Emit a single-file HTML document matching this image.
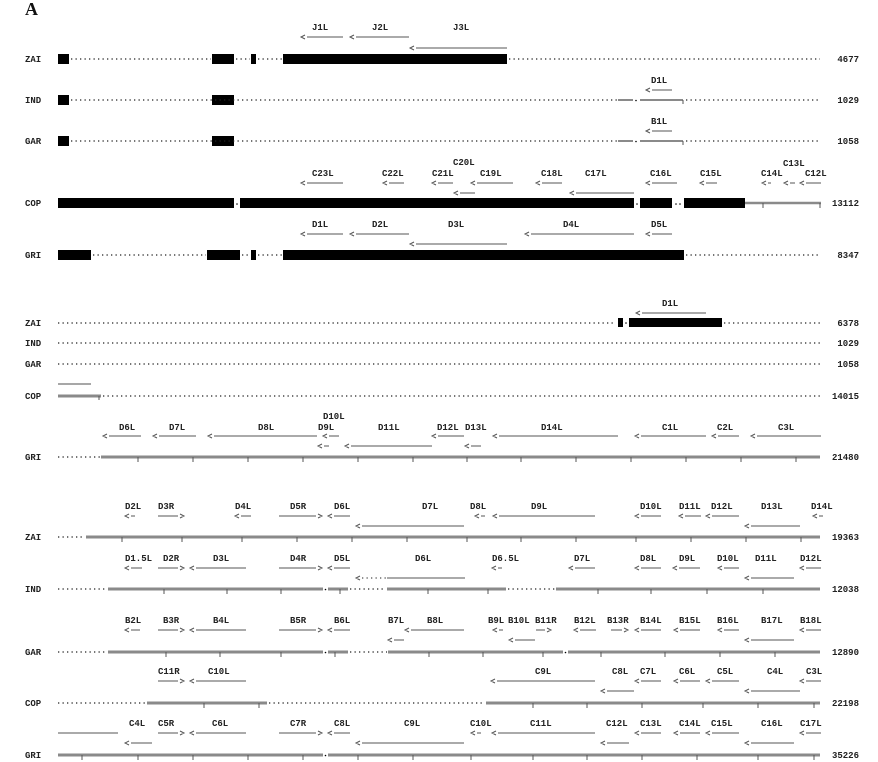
<!DOCTYPE html>
<html><head><meta charset="utf-8"><style>
html,body{margin:0;padding:0;background:#fff;}
svg{display:block}
text{font-family:"Liberation Mono",monospace;font-size:9px;font-weight:bold;fill:#222}
.d{stroke:#222;stroke-width:1.3;stroke-dasharray:1.3 3.2;fill:none}
.g{stroke:#8a8a8a;stroke-width:3;fill:none}
.a{stroke:#555;stroke-width:1;fill:none}
.k{stroke:#555;stroke-width:1;fill:none}
.n{text-anchor:end}
</style></head><body>
<svg width="878" height="762" viewBox="0 0 878 762" xmlns="http://www.w3.org/2000/svg">
<text x="25" y="15" style="font-family:'Liberation Serif',serif;font-size:18px;font-weight:bold;fill:#111">A</text>

<!-- ===== TOP PANEL ===== -->
<g>
<text x="25" y="62">ZAI</text><text x="25" y="103">IND</text><text x="25" y="144">GAR</text><text x="25" y="206">COP</text><text x="25" y="258">GRI</text>
<text class="n" x="859" y="62">4677</text><text class="n" x="859" y="103">1029</text><text class="n" x="859" y="144">1058</text><text class="n" x="859" y="206">13112</text><text class="n" x="859" y="258">8347</text>
</g>
<!-- ZAI -->
<rect x="58" y="54" width="11" height="10"/><rect x="212" y="54" width="22" height="10"/><rect x="251" y="54" width="5" height="10"/><rect x="283" y="54" width="224" height="10"/>
<path class="d" d="M71 59H211M236 59H250M258 59H282M509 59H820"/>
<text x="312" y="30">J1L</text><text x="372" y="30">J2L</text><text x="453" y="30">J3L</text>
<path class="a" d="M305 35L301 37L305 39M307 37H343M354 35L350 37L354 39M356 37H409M414 46L410 48L414 50M416 48H507"/>
<!-- IND -->
<rect x="58" y="95" width="11" height="10"/><rect x="212" y="95" width="22" height="10"/>
<path class="d" d="M71 100H617M686 100H820"/>
<path class="g" style="stroke-width:2" d="M618 100H633M640 100H683"/><circle cx="636" cy="100.5" r="0.8"/>
<path class="k" d="M683 100v4"/>
<text x="651" y="83">D1L</text>
<path class="a" d="M650 88L646 90L650 92M652 90H672"/>
<!-- GAR -->
<rect x="58" y="136" width="11" height="10"/><rect x="212" y="136" width="22" height="10"/>
<path class="d" d="M71 141H617M686 141H820"/>
<path class="g" style="stroke-width:2" d="M618 141H633M640 141H683"/><circle cx="636" cy="141.5" r="0.8"/>
<path class="k" d="M683 141v4"/>
<text x="651" y="124">B1L</text>
<path class="a" d="M650 129L646 131L650 133M652 131H672"/>
<!-- COP -->
<rect x="58" y="198" width="176" height="10"/><rect x="240" y="198" width="394" height="10"/><rect x="640" y="198" width="32" height="10"/><rect x="684" y="198" width="61" height="10"/>
<circle cx="237" cy="204" r="0.8"/><circle cx="637" cy="204" r="0.8"/><circle cx="676" cy="204" r="0.8"/><circle cx="680" cy="204" r="0.8"/>
<path class="g" style="stroke-width:2.5" d="M745 203H821"/><path class="k" d="M763 203v5M820 203v5"/>
<text x="312" y="176">C23L</text><text x="382" y="176">C22L</text><text x="432" y="176">C21L</text><text x="453" y="165">C20L</text><text x="480" y="176">C19L</text><text x="541" y="176">C18L</text><text x="585" y="176">C17L</text><text x="650" y="176">C16L</text><text x="700" y="176">C15L</text><text x="783" y="166">C13L</text><text x="761" y="176">C14L</text><text x="805" y="176">C12L</text>
<path class="a" d="M305 181L301 183L305 185M307 183H343M387 181L383 183L387 185M389 183H404M436 181L432 183L436 185M438 183H453M475 181L471 183L475 185M477 183H513M540 181L536 183L540 185M542 183H562M650 181L646 183L650 185M652 183H677M704 181L700 183L704 185M706 183H717M766 181L762 183L766 185M768 183H771M788 181L784 183L788 185M790 183H795M804 181L800 183L804 185M806 183H821M458 191L454 193L458 195M460 193H475M574 191L570 193L574 195M576 193H634"/>
<!-- GRI -->
<rect x="58" y="250" width="33" height="10"/><rect x="207" y="250" width="33" height="10"/><rect x="251" y="250" width="5" height="10"/><rect x="283" y="250" width="401" height="10"/>
<path class="d" d="M93 255H206M242 255H250M258 255H282M686 255H820"/>
<text x="312" y="227">D1L</text><text x="372" y="227">D2L</text><text x="448" y="227">D3L</text><text x="563" y="227">D4L</text><text x="651" y="227">D5L</text>
<path class="a" d="M305 232L301 234L305 236M307 234H343M354 232L350 234L354 236M356 234H409M529 232L525 234L529 236M531 234H634M650 232L646 234L650 236M652 234H672M414 242L410 244L414 246M416 244H507"/>

<!-- ===== MIDDLE PANEL ===== -->
<text x="25" y="326">ZAI</text><text x="25" y="346">IND</text><text x="25" y="367">GAR</text><text x="25" y="399">COP</text><text x="25" y="460">GRI</text>
<text class="n" x="859" y="326">6378</text><text class="n" x="859" y="346">1029</text><text class="n" x="859" y="367">1058</text><text class="n" x="859" y="399">14015</text><text class="n" x="859" y="460">21480</text>
<!-- ZAI -->
<path class="d" d="M58 323H616M724 323H820"/>
<rect x="618" y="318" width="5" height="9"/><circle cx="626" cy="323" r="0.8"/><rect x="629" y="318" width="93" height="9"/>
<text x="662" y="306">D1L</text>
<path class="a" d="M640 311L636 313L640 315M642 313H706"/>
<!-- IND GAR -->
<path class="d" d="M58 343H820M58 364H820"/>
<!-- COP -->
<path class="g" style="stroke-width:1.5" d="M58 384H91"/>
<path class="g" d="M58 396H101"/><path class="k" d="M99 396v4"/>
<path class="d" d="M103 396H820"/>
<!-- GRI -->
<path class="d" d="M58 457H100"/>
<path class="g" d="M101 457H820"/>
<path class="k" d="M138 457v5M193 457v5M248 457v5M303 457v5M358 457v5M413 457v5M467 457v5M521 457v5M576 457v5M631 457v5M686 457v5M741 457v5M796 457v5"/>
<text x="119" y="430">D6L</text><text x="169" y="430">D7L</text><text x="258" y="430">D8L</text><text x="318" y="430">D9L</text><text x="323" y="419">D10L</text><text x="378" y="430">D11L</text><text x="437" y="430">D12L</text><text x="465" y="430">D13L</text><text x="541" y="430">D14L</text><text x="662" y="430">C1L</text><text x="717" y="430">C2L</text><text x="778" y="430">C3L</text>
<path class="a" d="M107 434L103 436L107 438M109 436H141M157 434L153 436L157 438M159 436H196M212 434L208 436L212 438M214 436H317M327 434L323 436L327 438M329 436H339M436 434L432 436L436 438M438 436H464M497 434L493 436L497 438M499 436H618M639 434L635 436L639 438M641 436H706M716 434L712 436L716 438M718 436H739M755 434L751 436L755 438M757 436H821M322 444L318 446L322 448M324 446H329M349 444L345 446L349 448M351 446H432M469 444L465 446L469 448M471 446H481"/>

<!-- ===== BOTTOM PANEL ===== -->
<text x="25" y="540">ZAI</text><text x="25" y="592">IND</text><text x="25" y="655">GAR</text><text x="25" y="706">COP</text><text x="25" y="758">GRI</text>
<text class="n" x="859" y="540">19363</text><text class="n" x="859" y="592">12038</text><text class="n" x="859" y="655">12890</text><text class="n" x="859" y="706">22198</text><text class="n" x="859" y="758">35226</text>
<!-- ZAI -->
<path class="d" d="M58 537H85"/>
<path class="g" d="M86 537H820"/>
<path class="k" d="M122 537v5M182 537v5M242 537v5M297 537v5M352 537v5M407 537v5M467 537v5M521 537v5M576 537v5M636 537v5M691 537v5M746 537v5M801 537v5"/>
<text x="125" y="509">D2L</text><text x="158" y="509">D3R</text><text x="235" y="509">D4L</text><text x="290" y="509">D5R</text><text x="334" y="509">D6L</text><text x="422" y="509">D7L</text><text x="470" y="509">D8L</text><text x="531" y="509">D9L</text><text x="640" y="509">D10L</text><text x="679" y="509">D11L</text><text x="711" y="509">D12L</text><text x="761" y="509">D13L</text><text x="811" y="509">D14L</text>
<path class="a" d="M129 514L125 516L129 518M131 516H135M158 516H178M180 514L184 516L180 518M239 514L235 516L239 518M241 516H251M279 516H316M318 514L322 516L318 518M332 514L328 516L332 518M334 516H350M479 514L475 516L479 518M481 516H485M497 514L493 516L497 518M499 516H595M639 514L635 516L639 518M641 516H661M683 514L679 516L683 518M685 516H701M710 514L706 516L710 518M712 516H739M817 514L813 516L817 518M819 516H823M360 524L356 526L360 528M362 526H464M749 524L745 526L749 528M751 526H800"/>
<!-- IND -->
<path class="d" d="M58 589H107M350 589H386M508 589H555"/>
<path class="g" d="M108 589H323M328 589H348M387 589H506M556 589H820"/><circle cx="325.5" cy="589.5" r="0.8"/>
<path class="k" d="M164 589v5M227 589v5M281 589v5M340 589v5M428 589v5M488 589v5M598 589v5M651 589v5M707 589v5M763 589v5"/>
<text x="125" y="561">D1.5L</text><text x="163" y="561">D2R</text><text x="213" y="561">D3L</text><text x="290" y="561">D4R</text><text x="334" y="561">D5L</text><text x="415" y="561">D6L</text><text x="492" y="561">D6.5L</text><text x="574" y="561">D7L</text><text x="640" y="561">D8L</text><text x="679" y="561">D9L</text><text x="717" y="561">D10L</text><text x="755" y="561">D11L</text><text x="800" y="561">D12L</text>
<path class="a" d="M129 566L125 568L129 570M131 568H142M158 568H178M180 566L184 568L180 570M194 566L190 568L194 570M196 568H246M279 568H316M318 566L322 568L318 570M332 566L328 568L332 570M334 568H350M496 566L492 568L496 570M498 568H502M573 566L569 568L573 570M575 568H595M639 566L635 568L639 570M641 568H661M677 566L673 568L677 570M679 568H700M722 566L718 568L722 570M724 568H739M804 566L800 568L804 570M806 568H821M360 576L356 578L360 580M387 578H465M749 576L745 578L749 580M751 578H794"/>
<path class="d" style="stroke-width:1" d="M362 578H386"/>
<!-- GAR -->
<path class="d" d="M58 652H107M350 652H387"/>
<path class="g" d="M108 652H323M328 652H348M388 652H563M568 652H820"/><circle cx="325.5" cy="652.5" r="0.8"/><circle cx="565.5" cy="652.5" r="0.8"/>
<path class="k" d="M166 652v5M220 652v5M281 652v5M335 652v5M429 652v5M483 652v5M543 652v5M601 652v5M665 652v5M720 652v5M775 652v5"/>
<text x="125" y="623">B2L</text><text x="163" y="623">B3R</text><text x="213" y="623">B4L</text><text x="290" y="623">B5R</text><text x="334" y="623">B6L</text><text x="388" y="623">B7L</text><text x="427" y="623">B8L</text><text x="488" y="623">B9L</text><text x="508" y="623">B10L</text><text x="535" y="623">B11R</text><text x="574" y="623">B12L</text><text x="607" y="623">B13R</text><text x="640" y="623">B14L</text><text x="679" y="623">B15L</text><text x="717" y="623">B16L</text><text x="761" y="623">B17L</text><text x="800" y="623">B18L</text>
<path class="a" d="M129 628L125 630L129 632M131 630H140M158 630H178M180 628L184 630L180 632M194 628L190 630L194 632M196 630H246M279 630H316M318 628L322 630L318 632M332 628L328 630L332 632M334 630H350M409 628L405 630L409 632M411 630H464M497 628L493 630L497 632M499 630H503M536 630H545M547 628L551 630L547 632M578 628L574 630L578 632M580 630H596M611 630H622M624 628L628 630L624 632M639 628L635 630L639 632M641 630H661M678 628L674 630L678 632M680 630H700M722 628L718 630L722 632M724 630H739M804 628L800 630L804 632M806 630H821M392 638L388 640L392 642M394 640H404M513 638L509 640L513 642M515 640H535M749 638L745 640L749 642M751 640H794"/>
<!-- COP -->
<path class="d" d="M58 703H146M269 703H485"/>
<path class="g" d="M147 703H267M486 703H820"/>
<path class="k" d="M204 703v5M259 703v5M533 703v5M587 703v5M642 703v5M703 703v5M758 703v5M814 703v5"/>
<text x="158" y="674">C11R</text><text x="208" y="674">C10L</text><text x="535" y="674">C9L</text><text x="612" y="674">C8L</text><text x="640" y="674">C7L</text><text x="679" y="674">C6L</text><text x="717" y="674">C5L</text><text x="767" y="674">C4L</text><text x="806" y="674">C3L</text>
<path class="a" d="M158 681H178M180 679L184 681L180 683M194 679L190 681L194 683M196 681H246M495 679L491 681L495 683M497 681H595M639 679L635 681L639 683M641 681H661M678 679L674 681L678 683M680 681H700M710 679L706 681L710 683M712 681H739M804 679L800 681L804 683M806 681H821M605 689L601 691L605 693M607 691H634M749 689L745 691L749 693M751 691H800"/>
<!-- GRI -->
<path class="g" d="M58 755H323M328 755H820"/><circle cx="325.5" cy="755.5" r="0.8"/>
<path class="k" d="M82 755v5M138 755v5M193 755v5M248 755v5M303 755v5M358 755v5M413 755v5M471 755v5M533 755v5M587 755v5M642 755v5M697 755v5M758 755v5M814 755v5"/>
<text x="129" y="726">C4L</text><text x="158" y="726">C5R</text><text x="212" y="726">C6L</text><text x="290" y="726">C7R</text><text x="334" y="726">C8L</text><text x="404" y="726">C9L</text><text x="470" y="726">C10L</text><text x="530" y="726">C11L</text><text x="606" y="726">C12L</text><text x="640" y="726">C13L</text><text x="679" y="726">C14L</text><text x="711" y="726">C15L</text><text x="761" y="726">C16L</text><text x="800" y="726">C17L</text>
<path class="a" d="M58 733H118M158 733H178M180 731L184 733L180 735M194 731L190 733L194 735M196 733H246M279 733H316M318 731L322 733L318 735M332 731L328 733L332 735M334 733H350M475 731L471 733L475 735M477 733H481M496 731L492 733L496 735M498 733H595M639 731L635 733L639 735M641 733H661M678 731L674 733L678 735M680 733H700M710 731L706 733L710 735M712 733H739M804 731L800 733L804 735M806 733H821M129 741L125 743L129 745M131 743H152M360 741L356 743L360 745M362 743H464M605 741L601 743L605 745M607 743H629M749 741L745 743L749 745M751 743H794"/>
</svg>
</body></html>
